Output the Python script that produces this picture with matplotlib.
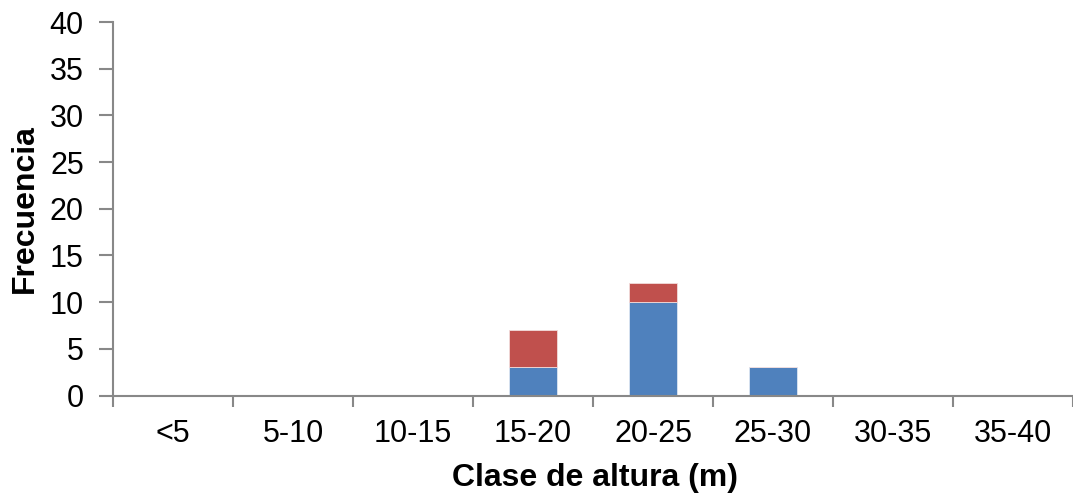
import matplotlib
matplotlib.use("Agg")
import matplotlib.pyplot as plt
import numpy as np

plt.rcParams['font.family'] = ['Liberation Sans', 'DejaVu Sans']

clases = ['<5', '5-10', '10-15', '15-20', '20-25', '25-30', '30-35', '35-40']
serie_azul = [0, 0, 0, 3, 10, 3, 0, 0]
serie_roja = [0, 0, 0, 4, 2, 0, 0, 0]

W, H = 1073, 497
fig = plt.figure(figsize=(W / 100, H / 100), dpi=100)
ax = fig.add_axes([113 / W, (H - 395.5) / H, 960 / W, (395.5 - 22) / H])

x = np.arange(len(clases))
ax.bar(x, serie_azul, width=0.4, color='#4F81BD', edgecolor='#DCE6F2', linewidth=0.6, zorder=2)
ax.bar(x, serie_roja, width=0.4, bottom=serie_azul, color='#C0504D', edgecolor='#F2DCDB', linewidth=0.6, zorder=2)

ax.set_xlim(-0.5, len(clases) - 0.5)
ax.set_ylim(0, 40)
ax.set_yticks(np.arange(0, 41, 5))

# categorias centradas entre las marcas de los limites
ax.set_xticks(np.arange(-0.5, len(clases), 1.0))
ax.set_xticklabels([])
ax.set_xticks(x, minor=True)
ax.set_xticklabels(clases, minor=True)
ax.tick_params(axis='x', which='minor', length=0, labelsize=22, pad=17)
ax.tick_params(axis='x', which='major', length=8, width=1.5, color='#888888', direction='out')
ax.tick_params(axis='y', length=10, width=1.5, color='#888888', labelsize=22, pad=11)

for s in ['top', 'right']:
    ax.spines[s].set_visible(False)
for s in ['left', 'bottom']:
    ax.spines[s].set_color('#888888')
    ax.spines[s].set_linewidth(1.5)

fig.text(595 / W, 1 - 478 / H, 'Clase de altura (m)', ha='center', va='center',
         fontsize=23, fontweight='bold')
fig.text(25 / W, 1 - 209 / H, 'Frecuencia', ha='center', va='center',
         rotation=90, fontsize=23, fontweight='bold')

fig.savefig('out.png', dpi=100)
